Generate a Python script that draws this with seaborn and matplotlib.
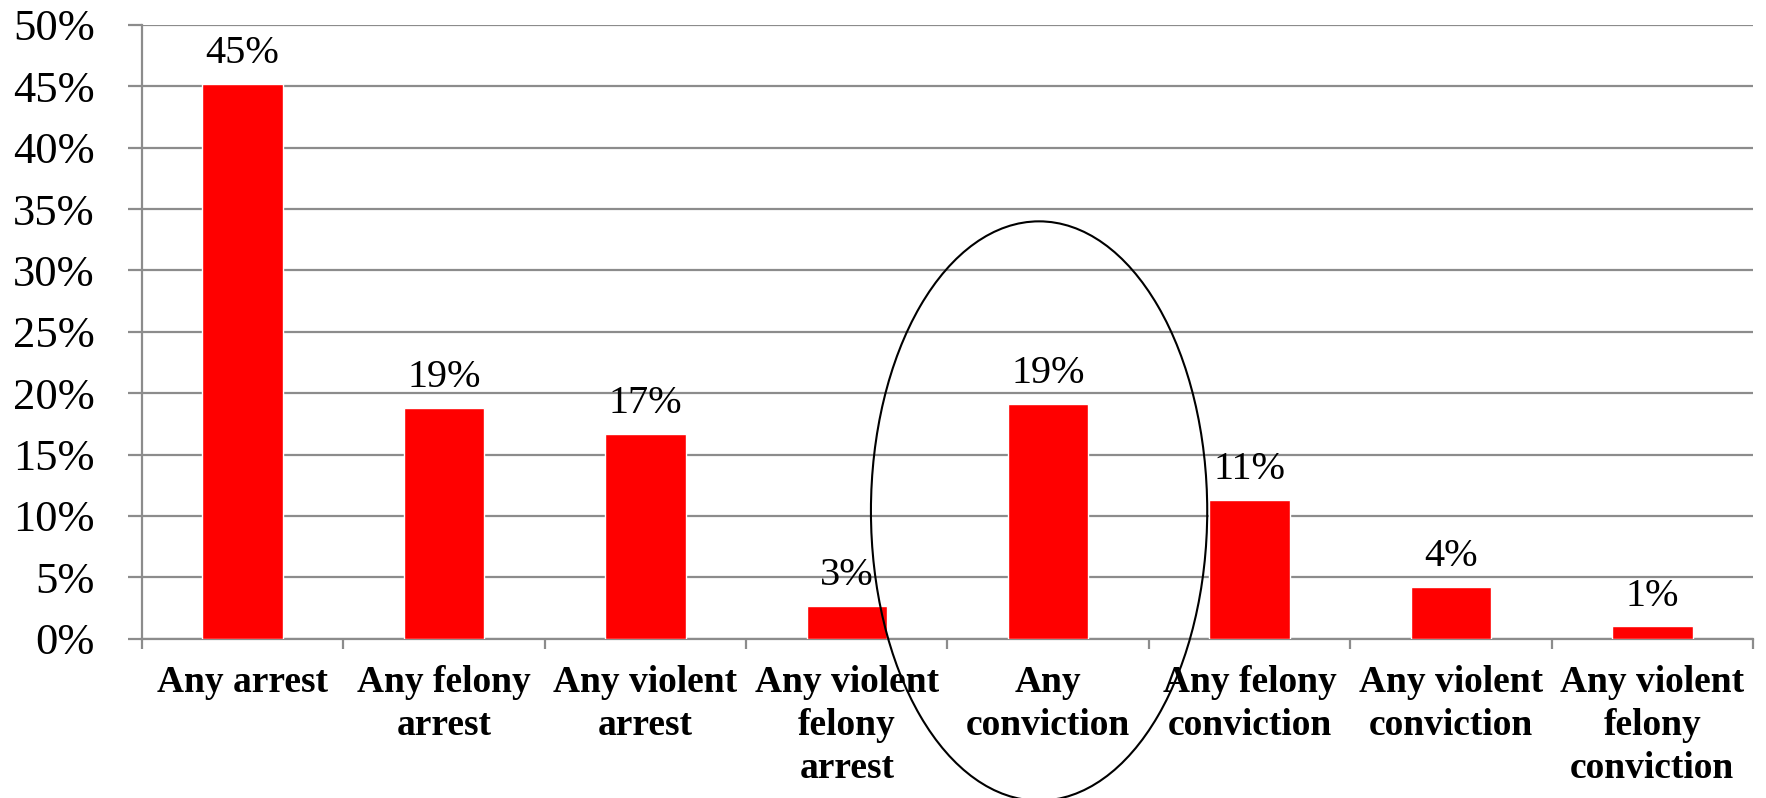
import matplotlib
matplotlib.use("Agg")
import matplotlib.pyplot as plt
from matplotlib.patches import Ellipse
from matplotlib.ticker import FixedLocator, FuncFormatter
import seaborn as sns
import pandas as pd

# Share of the group with each type of criminal-justice outcome (%)
categories = [
    "Any arrest",
    "Any felony\narrest",
    "Any violent\narrest",
    "Any violent\nfelony\narrest",
    "Any\nconviction",
    "Any felony\nconviction",
    "Any violent\nconviction",
    "Any violent\nfelony\nconviction",
]
values = [45.2, 18.8, 16.7, 2.7, 19.1, 11.3, 4.2, 1.0]
value_labels = ["45%", "19%", "17%", "3%", "19%", "11%", "4%", "1%"]
y_ticks = [0, 5, 10, 15, 20, 25, 30, 35, 40, 45, 50]

sns.set_style("white")
plt.rcParams["font.family"] = ["Liberation Serif", "DejaVu Serif"]

df = pd.DataFrame({"outcome": categories, "pct": values})

fig = plt.figure(figsize=(17.66, 7.98), dpi=100)
ax = fig.add_axes([0.0804, 0.1997, 0.9122, 0.769])

sns.barplot(data=df, x="outcome", y="pct", color="#ff0000", saturation=1,
            width=0.40, ax=ax, zorder=3)

grid_col = "#8c8c8c"
ax.set_ylim(0, 50)
ax.set_xlim(-0.5, len(categories) - 0.5)
ax.yaxis.set_major_locator(FixedLocator(y_ticks))
ax.yaxis.set_major_formatter(FuncFormatter(lambda v, _: f"{v:.0f}%"))
ax.yaxis.grid(True, color=grid_col, lw=1.6, zorder=0)
ax.set_axisbelow(True)

for side in ("top", "right"):
    ax.spines[side].set_visible(False)
for side in ("left", "bottom"):
    ax.spines[side].set_color(grid_col)
    ax.spines[side].set_linewidth(1.6)

ax.tick_params(axis="y", which="major", direction="out", length=10, width=1.6,
               color=grid_col, pad=24, labelsize=32, labelcolor="black", left=True)
ax.tick_params(axis="x", which="major", length=0, pad=19, labelsize=27,
               labelcolor="black")
ax.set_xticks(range(len(categories)))
ax.set_xticklabels(categories, fontweight="bold", linespacing=1.3)
ax.set_xticks([i - 0.5 for i in range(len(categories) + 1)], minor=True)
ax.tick_params(axis="x", which="minor", direction="out", length=7, width=1.6,
               color=grid_col, bottom=True)

ax.set_xlabel("")
ax.set_ylabel("")

for i, (v, lab) in enumerate(zip(values, value_labels)):
    ax.annotate(lab, xy=(i, v), xytext=(0, 15), textcoords="offset points",
                ha="center", va="baseline", fontsize=29, color="black")

# Highlight around the conviction bar
ax.add_patch(Ellipse((3.955, 10.4), width=1.67, height=47.2, fill=False,
                     edgecolor="black", lw=1.5, clip_on=False, zorder=5))

fig.savefig("out.png", dpi=100, facecolor="white")
